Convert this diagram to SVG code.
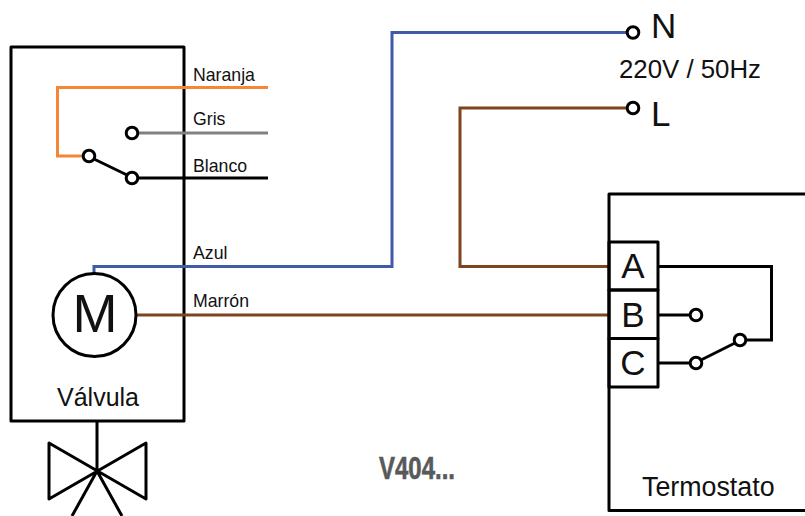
<svg xmlns="http://www.w3.org/2000/svg" width="805" height="516" viewBox="0 0 805 516">
<style>
text{font-family:"Liberation Sans",Arial,sans-serif;fill:#111}
.box{fill:none;stroke:#000;stroke-width:3;stroke-linejoin:round}
.w{fill:none;stroke-width:3;stroke-linejoin:miter}
.t{fill:#fff;stroke:#000;stroke-width:3}
.k{stroke:#000}.o{stroke:#f58634}.g{stroke:#808085}.b{stroke:#3f5ba9}.m{stroke:#7b4520}
.lab{font-size:17.700px}.term{font-size:35px}
</style>
<rect width="805" height="516" fill="#fff"/>
<g id="valve">
<rect class="box" x="11" y="47" width="173" height="374"/>
<path class="box" d="M97 421V471M49 443L146 499V443L49 499ZM97 471L72 516M97 471L122 516"/>
<text x="57" y="406" font-size="25">Válvula</text>
</g>
<g id="connectors">
<path class="w o" d="M268 87.500H57.500V156H85"/>
<path class="w g" d="M138 133H268"/>
<path class="w k" d="M138 178H268M94 159L127 175"/>
<path class="w b" d="M94 273V266.500H392V32.500H628"/>
<path class="w m" d="M137 315H610M610 266.500H460V108H628"/>
<path class="w k" d="M658 266.500H771.500V340H746M658 315H690M658 363H690M701 360L735 343"/>
</g>
<g id="motor">
<circle cx="94.500" cy="315" r="41.500" fill="none" stroke="#000" stroke-width="3"/>
<text x="95" y="332" font-size="54" text-anchor="middle">M</text>
</g>
<g id="switch-valve">
<circle class="t" cx="89" cy="156" r="5.800"/><circle class="t" cx="132" cy="133" r="5.800"/><circle class="t" cx="132" cy="178" r="5.800"/>
</g>
<g id="wire-labels">
<text class="lab" x="193" y="81">Naranja</text>
<text class="lab" x="193" y="125">Gris</text>
<text class="lab" x="193" y="172">Blanco</text>
<text class="lab" x="193" y="259">Azul</text>
<text class="lab" x="193" y="307">Marrón</text>
</g>
<g id="supply">
<circle class="t" cx="633" cy="32.500" r="5.800"/><circle class="t" cx="633" cy="108" r="5.800"/>
<text class="term" x="651" y="38">N</text>
<text class="term" x="651" y="126">L</text>
<text x="619" y="78" font-size="25.800">220V / 50Hz</text>
</g>
<g id="thermostat">
<path class="box" d="M805 194H609V510.500H805"/>
<rect class="box" x="609" y="242" width="49" height="48"/>
<rect class="box" x="609" y="290" width="49" height="48.500"/>
<rect class="box" x="609" y="338.500" width="49" height="48.500"/>
<text class="term" x="633" y="278" text-anchor="middle">A</text>
<text class="term" x="633" y="326.500" text-anchor="middle">B</text>
<text class="term" x="633" y="375" text-anchor="middle">C</text>
<circle class="t" cx="696" cy="315" r="5.800"/><circle class="t" cx="696" cy="363" r="5.800"/><circle class="t" cx="740" cy="340" r="5.800"/>
<text x="642" y="496" font-size="26.800">Termostato</text>
</g>
<text id="model" x="379" y="479" font-size="32" font-weight="700" textLength="76" lengthAdjust="spacingAndGlyphs" style="fill:#58595b;stroke:#58595b;stroke-width:.6">V404...</text>
</svg>
